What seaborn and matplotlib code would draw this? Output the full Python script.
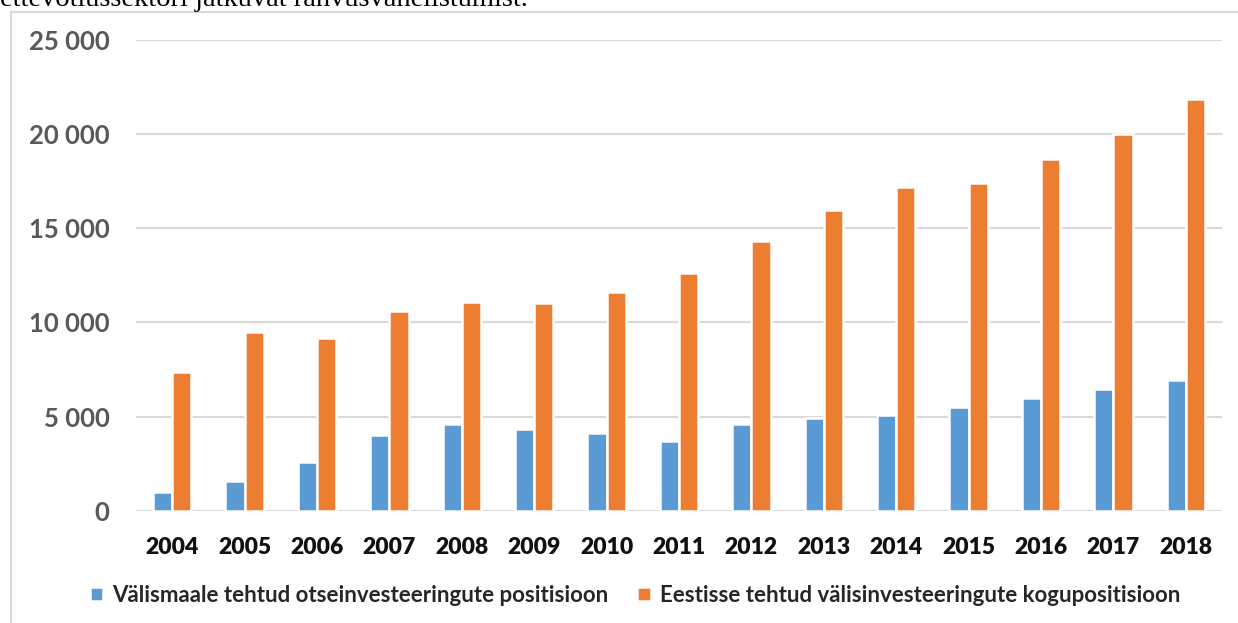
import matplotlib
matplotlib.use("Agg")
import matplotlib.pyplot as plt
from matplotlib.patches import Rectangle
import seaborn as sns
import pandas as pd

years = ["2004", "2005", "2006", "2007", "2008", "2009", "2010", "2011",
         "2012", "2013", "2014", "2015", "2016", "2017", "2018"]
series_names = ["Välismaale tehtud otseinvesteeringute positisioon",
                "Eestisse tehtud välisinvesteeringute kogupositisioon"]
outward = [1000, 1600, 2600, 4000, 4580, 4320, 4120, 3680,
           4580, 4900, 5090, 5530, 5980, 6480, 6950]
inward = [7380, 9500, 9180, 10620, 11080, 11030, 11640, 12600,
          14320, 15970, 17200, 17410, 18670, 20030, 21880]
yticks = [0, 5000, 10000, 15000, 20000, 25000]
colors = ["#5B9BD5", "#ED7D31"]

df = pd.DataFrame({
    "year": years * 2,
    "value": outward + inward,
    "series": [series_names[0]] * len(years) + [series_names[1]] * len(years),
})

sns.set_theme(style="white")
plt.rcParams["font.family"] = ["Lato", "DejaVu Sans"]

W, H = 1238, 623
fig = plt.figure(figsize=(W / 100, H / 100), dpi=100)
ax = fig.add_axes([136 / W, 1 - 510.7 / H, (1222 - 136) / W, (510.7 - 40) / H])

sns.barplot(data=df, x="year", y="value", hue="series", order=years,
            hue_order=series_names, palette=colors, width=0.53,
            edgecolor="white", linewidth=1.8, saturation=1, ax=ax)

ax.set_ylim(0, 25000)
ax.set_xlim(-0.5, len(years) - 0.5)
ax.set_yticks(yticks)
ax.set_yticklabels([f"{v:,}".replace(",", " ") for v in yticks],
                   fontsize=18.5, fontweight="bold", color="#595959")
ax.tick_params(axis="y", length=0, pad=19)
ax.tick_params(axis="x", length=0, pad=19)
for lbl in ax.get_xticklabels():
    lbl.set_fontsize(16.5)
    lbl.set_fontweight("heavy")
    lbl.set_color("#111111")
ax.set_xlabel("")
ax.set_ylabel("")
ax.grid(axis="y", color="#d9d9d9", linewidth=1.5)
ax.set_axisbelow(True)
for s in ax.spines.values():
    s.set_visible(False)

handles, labels = ax.get_legend_handles_labels()
ax.legend(handles, labels, loc="center",
          bbox_to_anchor=((635 - 136) / (1222 - 136), (510.7 - 595) / (510.7 - 40)),
          ncol=2, frameon=False, handlelength=0.6, handleheight=0.6,
          handletextpad=0.4, columnspacing=1.3,
          prop={"family": ["Lato", "DejaVu Sans"], "weight": "bold", "size": 16})

# chart frame
fig.add_artist(Rectangle((10.5 / W, -0.05), 1.05, 1 - 11.5 / H + 0.05,
                         transform=fig.transFigure, fill=False,
                         edgecolor="#d9d9d9", linewidth=1.5))

# preceding document line, partly cut off at the top edge
fig.text(0.0, 1 - 6 / H, "ettevõtlussektori jätkuvat rahvusvahelistumist.",
         family=["Liberation Serif", "DejaVu Serif"], fontsize=20.5,
         va="baseline", ha="left", color="black")

fig.savefig("out.png", dpi=100)
